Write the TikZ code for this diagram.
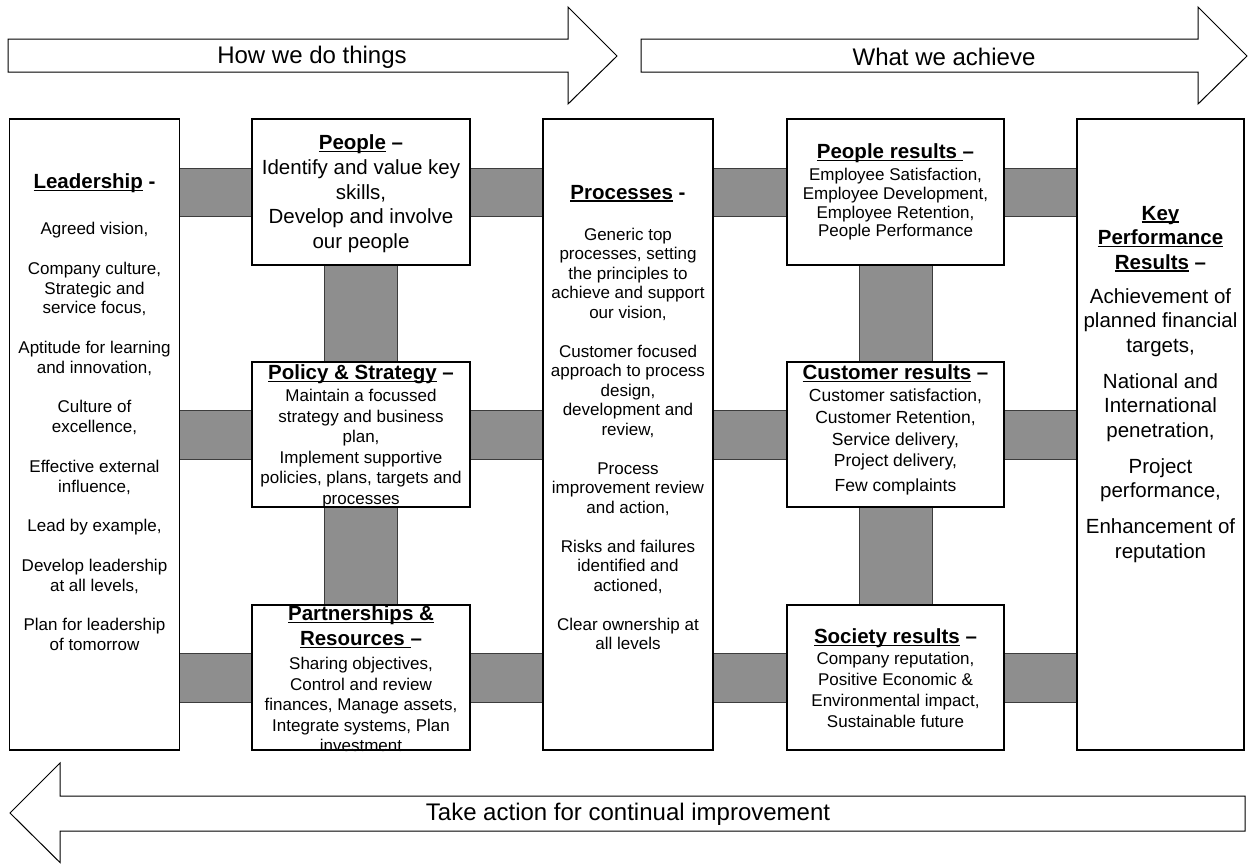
\documentclass[tikz,border=0pt]{standalone}
\usepackage{fontspec}
\setmainfont{Liberation Sans}
\usetikzlibrary{backgrounds,calc}
\definecolor{barfill}{RGB}{142,142,142}
\definecolor{barline}{RGB}{60,60,60}
\newcommand\ulin[1]{\setbox0\hbox{#1}\rlap{\rule[-2.6pt]{\wd0}{1.3pt}}\box0\relax}
\newcommand\hd[1]{{\fontsize{20.5}{24}\selectfont\bfseries #1}}
\begin{document}
\begin{tikzpicture}[x=1pt,y=-1pt,
  box/.style={draw=black,line width=1.3pt,fill=white,inner sep=0pt,outer sep=0pt,anchor=north west},
  txt/.style={inner sep=0pt,outer sep=0pt,anchor=north,align=center},
  bar/.style={draw=barline,line width=1pt,fill=barfill},
  bigarrow/.style={draw=black,line width=1pt,fill=white,line join=miter},
  arrtxt/.style={inner sep=0pt,font=\fontsize{24}{28}\selectfont}]
\useasboundingbox (0,0) rectangle (1249,863);
% arrows
\draw[bigarrow] (8,39) -- (568,39) -- (568,7) -- (617,56) -- (568,104) -- (568,72) -- (8,72) -- cycle;
\node[arrtxt] (howtxt) at (312,57) {How we do things};
\draw[bigarrow] (641,39) -- (1198,39) -- (1198,7) -- (1247,56) -- (1198,104) -- (1198,72) -- (641,72) -- cycle;
\node[arrtxt] (whattxt) at (944,57) {What we achieve};
\draw[bigarrow] (1245,796) -- (60,796) -- (60,763) -- (10,813) -- (60,862.5) -- (60,831) -- (1245,831) -- cycle;
\node[arrtxt] (taketxt) at (628,814) {Take action for continual improvement};
% boxes
\node[box,minimum width=170pt,minimum height=631pt] (lead) at (9.5,119) {};
\node[box,minimum width=218pt,minimum height=146pt] (people) at (252,119) {};
\node[box,minimum width=218pt,minimum height=145pt] (policy) at (252,362) {};
\node[box,minimum width=218pt,minimum height=145pt] (partner) at (252,605) {};
\node[box,minimum width=170pt,minimum height=631pt] (proc) at (543,119) {};
\node[box,minimum width=217pt,minimum height=146pt] (presult) at (787,119) {};
\node[box,minimum width=217pt,minimum height=145pt] (cresult) at (787,362) {};
\node[box,minimum width=217pt,minimum height=145pt] (sresult) at (787,605) {};
\node[box,minimum width=167pt,minimum height=631pt] (kpr) at (1077,119) {};
% bars
\begin{pgfonlayer}{background}
\draw[bar] ([yshift=24pt]lead.east |- people.center) rectangle ([yshift=-24pt]people.west);
\draw[bar] ([yshift=24pt]people.east) rectangle ([yshift=-24pt]proc.west |- people.center);
\draw[bar] ([yshift=24pt]proc.east |- presult.center) rectangle ([yshift=-24pt]presult.west);
\draw[bar] ([yshift=24pt]presult.east) rectangle ([yshift=-24pt]kpr.west |- presult.center);
\draw[bar] ([yshift=24.5pt]lead.east |- policy.center) rectangle ([yshift=-24.5pt]policy.west);
\draw[bar] ([yshift=24.5pt]policy.east) rectangle ([yshift=-24.5pt]proc.west |- policy.center);
\draw[bar] ([yshift=24.5pt]proc.east |- cresult.center) rectangle ([yshift=-24.5pt]cresult.west);
\draw[bar] ([yshift=24.5pt]cresult.east) rectangle ([yshift=-24.5pt]kpr.west |- cresult.center);
\draw[bar] ([yshift=24.5pt]lead.east |- partner.center) rectangle ([yshift=-24.5pt]partner.west);
\draw[bar] ([yshift=24.5pt]partner.east) rectangle ([yshift=-24.5pt]proc.west |- partner.center);
\draw[bar] ([yshift=24.5pt]proc.east |- sresult.center) rectangle ([yshift=-24.5pt]sresult.west);
\draw[bar] ([yshift=24.5pt]sresult.east) rectangle ([yshift=-24.5pt]kpr.west |- sresult.center);
\draw[bar] ([xshift=-36.5pt]people.south) rectangle ([xshift=36.5pt]policy.north);
\draw[bar] ([xshift=-36.5pt]policy.south) rectangle ([xshift=36.5pt]partner.north);
\draw[bar] ([xshift=-36.5pt]presult.south) rectangle ([xshift=36.5pt]cresult.north);
\draw[bar] ([xshift=-36.5pt]cresult.south) rectangle ([xshift=36.5pt]sresult.north);
\end{pgfonlayer}
% texts
\node[txt,font=\fontsize{17}{19.8}\selectfont] (leadtxt) at ([yshift=-55pt]lead.north) {%
\hd{\ulin{Leadership} -}\\[26pt]
Agreed vision,\\[19.8pt]
Company culture,\\ Strategic and\\ service focus,\\[19.8pt]
Aptitude for learning\\ and innovation,\\[19.8pt]
Culture of\\ excellence,\\[19.8pt]
Effective external\\ influence,\\[19.8pt]
Lead by example,\\[19.8pt]
Develop leadership\\ at all levels,\\[19.8pt]
Plan for leadership\\ of tomorrow};
\node[txt,font=\fontsize{20.5}{24.7}\selectfont] (peopletxt) at ([yshift=-16pt]people.north) {%
\hd{\ulin{People} –}\\ Identify and value key\\ skills,\\ Develop and involve\\ our people};
\node[txt,font=\fontsize{17}{20.5}\selectfont] (policytxt) at ([yshift=-3pt]policy.north) {%
\hd{\ulin{Policy \& Strategy} –}\\[1.5pt] Maintain a focussed\\ strategy and business\\ plan,\\ Implement supportive\\ policies, plans, targets and\\ processes};
\node[txt,font=\fontsize{17}{20.5}\selectfont] (partnertxt) at ([yshift=-1pt]partner.north) {%
\hd{\ulin{Partnerships \&}}\\[4.5pt] \hd{\ulin{Resources\ }–}\\[3.5pt] Sharing objectives,\\ Control and review\\ finances, Manage assets,\\ Integrate systems, Plan\\ investment};
\node[txt,font=\fontsize{17}{19.5}\selectfont] (proctxt) at ([yshift=-66pt]proc.north) {%
\hd{\ulin{Processes} -}\\[21.5pt]
Generic top\\ processes, setting\\ the principles to\\ achieve and support\\ our vision,\\[19.5pt]
Customer focused\\ approach to process\\ design,\\ development and\\ review,\\[19.5pt]
Process\\ improvement review\\ and action,\\[19.5pt]
Risks and failures\\ identified and\\ actioned,\\[19.5pt]
Clear ownership at\\ all levels};
\node[txt,font=\fontsize{17}{18.6}\selectfont] (presulttxt) at ([yshift=-25pt]presult.north) {%
\hd{\ulin{People results\ }–}\\[3.5pt] Employee Satisfaction,\\ Employee Development,\\ Employee Retention,\\ People Performance};
\node[txt,font=\fontsize{17.5}{21.7}\selectfont] (cresulttxt) at ([yshift=-3pt]cresult.north) {%
\hd{\ulin{Customer results} –}\\[0.3pt] Customer satisfaction,\\ Customer Retention,\\ Service delivery,\\ Project delivery,\\[2.5pt] Few complaints};
\node[txt,font=\fontsize{17}{21}\selectfont] (sresulttxt) at ([yshift=-24pt]sresult.north) {%
\hd{\ulin{Society results} –}\\ Company reputation,\\ Positive Economic \&\\ Environmental impact,\\ Sustainable future};
\node[txt,font=\fontsize{20.5}{24.5}\selectfont] (kprtxt) at ([yshift=-87pt]kpr.north) {%
\hd{\ulin{Key}}\\ \hd{\ulin{Performance}}\\ \hd{\ulin{Results} –}\\[9.5pt]
Achievement of\\ planned financial\\ targets,\\[11.5pt]
National and\\ International\\ penetration,\\[11.5pt]
Project\\ performance,\\[11.5pt]
Enhancement of\\ reputation};
\end{tikzpicture}
\end{document}
